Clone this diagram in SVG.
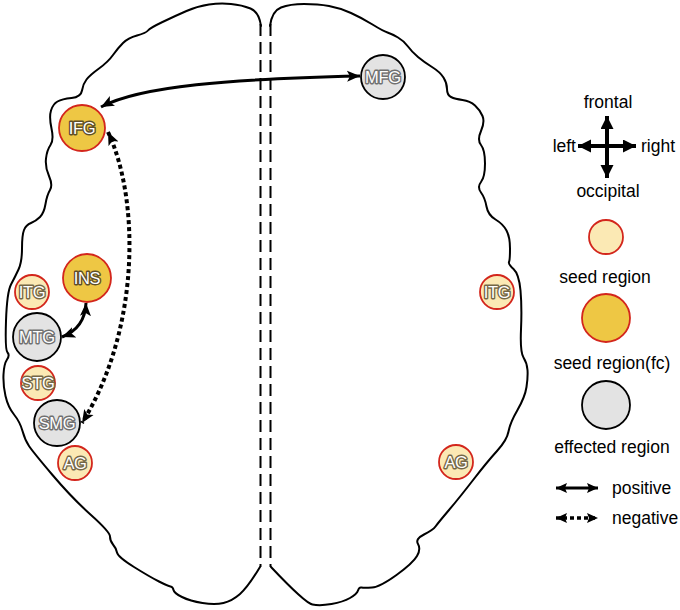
<svg xmlns="http://www.w3.org/2000/svg" width="680" height="610" viewBox="0 0 680 610">
<defs>
<style>
.outline{fill:none;stroke:#000;stroke-width:2;stroke-linejoin:round;stroke-linecap:round}
.mid{fill:none;stroke:#000;stroke-width:2;stroke-dasharray:12 6}
.gold{fill:#EEC744;stroke:#D3261C;stroke-width:1.8}
.light{fill:#FBE9B4;stroke:#D3261C;stroke-width:1.8}
.gray{fill:#E3E3E3;stroke:#000;stroke-width:1.8}
.lbl{font-family:"Liberation Sans",Arial,sans-serif;font-size:16.5px;text-anchor:middle;fill:#fff;stroke-width:2.8;paint-order:stroke;stroke-linejoin:round;letter-spacing:-0.3px}
.lg{stroke:#5e4f28}
.lgr{stroke:#707070}
.ll{stroke:#746746}
.conn{fill:none;stroke:#000;stroke-width:3}
.dot{fill:none;stroke:#000;stroke-width:4;stroke-dasharray:4 3}
.txt{font-family:"Liberation Sans",Arial,sans-serif;font-size:17.5px;fill:#000}
</style>
<marker id="ah" markerUnits="userSpaceOnUse" markerWidth="14" markerHeight="12" refX="13" refY="6" orient="auto-start-reverse">
<path d="M0,0.5 L13,6 L0,11.5 L3,6 z" fill="#000"/>
</marker>
<marker id="ahs" markerUnits="userSpaceOnUse" markerWidth="12" markerHeight="12" refX="11" refY="5" orient="auto-start-reverse">
<path d="M0,0 L11,5 L0,10 L2,5 z" fill="#000"/>
</marker>
<marker id="ahx" markerUnits="userSpaceOnUse" markerWidth="14" markerHeight="14" refX="13" refY="6.5" orient="auto-start-reverse">
<path d="M0,0 L13,6.5 L0,13 z" fill="#000"/>
</marker>
</defs>
<rect width="680" height="610" fill="#fff"/>
<g id="brain">
<path class="outline" d="M261,26 Q259,12 250.5,8.5 Q242,5 231,4 Q220,3 209,4.5 Q198,6 186.5,11 Q175,16 162.5,22 Q150,28 148,30.5 Q146,33 137,35.5 Q128,38 123,43 Q118,48 113,55 Q108,62 99,68.5 Q90,75 86.5,79.5 Q83,84 82,90.5 Q81,97 71.5,98 Q62,99 57.5,101.5 Q53,104 51,110.5 Q49,117 51.5,128.5 Q54,140 50.5,145 Q47,150 46,158.5 Q45,167 49,176 Q53,185 50,190 Q47,195 45.5,204 Q44,213 40,217 Q36,221 31,223 Q26,225 24,230 Q22,235 22,248.5 Q22,262 18.5,269.5 Q15,277 11,284.5 Q7,292 6,321 Q5,350 7.5,352.5 Q10,355 7,359.5 Q4,364 3.5,374.5 Q3,385 5.5,396 Q8,407 14,414.5 Q20,422 22.5,431 Q25,440 29,446 Q33,452 52.5,475 Q72,498 91,515 Q110,532 110,536.5 Q110,541 113,544.5 Q116,548 117,552.5 Q118,557 134,567 Q150,577 159,581.5 Q168,586 170.5,586.5 Q173,587 173.5,590 Q174,593 182,597 Q190,601 202.5,603 Q215,605 223.5,603 Q232,601 240,594 Q248,587 260,567"/>
<path class="outline" d="M270,26 Q272,11 281,7.5 Q290,4 304,4 Q318,4 329,6 Q340,8 351,13 Q362,18 372.5,24.5 Q383,31 387.5,32.5 Q392,34 398,37.5 Q404,41 408,46.5 Q412,52 418,57 Q424,62 432,67 Q440,72 443.5,77.5 Q447,83 447,89 Q447,95 451,97 Q455,99 462.5,100 Q470,101 475,105.5 Q480,110 482.5,116 Q485,122 481,131 Q477,140 481,145 Q485,150 485,163.5 Q485,177 481,182 Q477,187 481,192.5 Q485,198 486.5,206.5 Q488,215 495.5,219.5 Q503,224 506.5,230.5 Q510,237 510,248.5 Q510,260 509,262 Q508,264 513.5,269 Q519,274 520.5,290.5 Q522,307 521,329.5 Q520,352 523.5,357.5 Q527,363 527.5,370 Q528,377 526.5,387 Q525,397 517.5,410 Q510,423 508.5,431.5 Q507,440 497,451 Q487,462 473.5,479.5 Q460,497 449,510 Q438,523 435.5,526.5 Q433,530 424,534.5 Q415,539 418,544 Q421,549 417,556 Q413,563 396.5,575 Q380,587 372,587.5 Q364,588 361.5,587.5 Q359,587 358,590.5 Q357,594 350,598 Q343,602 331.5,604 Q320,606 312.5,604.5 Q305,603 271,567"/>
<line class="mid" x1="260.5" y1="24" x2="260.5" y2="567"/>
<line class="mid" x1="270.5" y1="24" x2="270.5" y2="567"/>
</g>
<g id="connectors">
<path class="conn" d="M101,107 C140,86 230,79 360,76" marker-start="url(#ah)" marker-end="url(#ah)"/>
<path class="dot" d="M108,132 C140,200 140,330 82,423" marker-start="url(#ah)" marker-end="url(#ah)"/>
<path class="conn" d="M86,303 Q85,328 62,337" marker-start="url(#ah)" marker-end="url(#ah)"/>
</g>
<g id="node-IFG"><circle class="gold" cx="82" cy="128" r="23"/><text class="lbl lg" x="82" y="134">IFG</text></g>
<g id="node-MFG"><circle class="gray" cx="383" cy="77" r="22"/><text class="lbl lgr" x="383" y="83">MFG</text></g>
<g id="node-INS"><circle class="gold" cx="87" cy="278" r="24"/><text class="lbl lg" x="87" y="284">INS</text></g>
<g id="node-ITG-left"><circle class="light" cx="32" cy="292" r="17"/><text class="lbl ll" x="32" y="298">ITG</text></g>
<g id="node-MTG"><circle class="gray" cx="37" cy="337" r="24"/><text class="lbl lgr" x="37" y="343">MTG</text></g>
<g id="node-STG"><circle class="light" cx="38" cy="383" r="17"/><text class="lbl ll" x="38" y="389">STG</text></g>
<g id="node-SMG"><circle class="gray" cx="57" cy="423" r="23"/><text class="lbl lgr" x="57" y="429">SMG</text></g>
<g id="node-AG-left"><circle class="light" cx="75" cy="463" r="17"/><text class="lbl ll" x="75" y="469">AG</text></g>
<g id="node-ITG-right"><circle class="light" cx="497" cy="292" r="17"/><text class="lbl ll" x="497" y="298">ITG</text></g>
<g id="node-AG-right"><circle class="light" cx="456" cy="462" r="17"/><text class="lbl ll" x="456" y="468">AG</text></g>
<g id="legend">
<text class="txt" x="608" y="108" text-anchor="middle">frontal</text>
<line x1="607" y1="146" x2="607" y2="116" stroke="#000" stroke-width="4" marker-end="url(#ahx)"/>
<line x1="607" y1="146" x2="607" y2="178" stroke="#000" stroke-width="4" marker-end="url(#ahx)"/>
<line x1="607" y1="146" x2="578" y2="146" stroke="#000" stroke-width="4" marker-end="url(#ahx)"/>
<line x1="607" y1="146" x2="636" y2="146" stroke="#000" stroke-width="4" marker-end="url(#ahx)"/>
<text class="txt" x="576" y="152" text-anchor="end">left</text>
<text class="txt" x="641" y="152">right</text>
<text class="txt" x="608" y="197" text-anchor="middle">occipital</text>
<circle class="light" cx="606" cy="237" r="17"/>
<text class="txt" x="605" y="283" text-anchor="middle">seed region</text>
<circle class="gold" cx="606" cy="318" r="24"/>
<text class="txt" x="612" y="369" text-anchor="middle">seed region(fc)</text>
<circle class="gray" cx="606" cy="405" r="24"/>
<text class="txt" x="612" y="453" text-anchor="middle">effected region</text>
<line x1="556" y1="488" x2="598" y2="488" stroke="#000" stroke-width="3" marker-start="url(#ahs)" marker-end="url(#ahs)"/>
<text class="txt" x="612" y="494">positive</text>
<line x1="556" y1="518" x2="598" y2="518" stroke="#000" stroke-width="3.5" stroke-dasharray="4 3" marker-start="url(#ahs)" marker-end="url(#ahs)"/>
<text class="txt" x="612" y="524">negative</text>
</g>
</svg>
